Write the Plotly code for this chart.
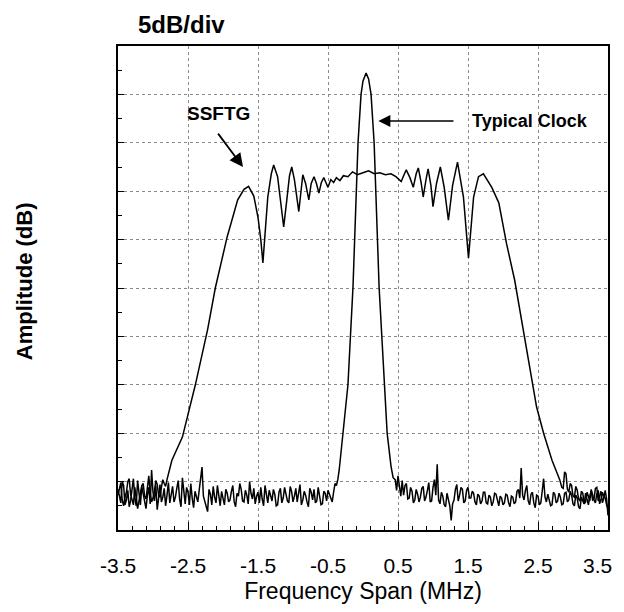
import numpy as np
import plotly.graph_objects as go

# ---------------- data ----------------
x_tick_vals = [-3.5, -2.5, -1.5, -0.5, 0.5, 1.5, 2.5]
x_tick_text = ["-3.5", "-2.5", "-1.5", "-0.5", "0.5", "1.5", "2.5"]
x_last_tick_text = "3.5"   # right-edge label, placed flush with the figure edge

# Typical clock: noise floor left of the peak (f = -3.50 ... -0.38 MHz, 0.02 MHz step)
clock_left_start, clock_left_stop = -3.50, -0.38
clock_left_db = [4.2, 3.5, 2.8, 5.0, 4.6, 2.6, 3.1, 4.1, 2.4, 3.0, 4.0, 5.3, 3.3, 2.5, 5.1, 3.9, 2.6, 4.5, 3.8, 2.9,
                 2.2, 3.6, 4.4, 2.7, 6.2, 3.9, 3.0, 4.6, 2.1, 3.3, 4.7, 2.9, 3.4, 4.3, 2.5, 3.6, 4.9, 2.8, 3.6, 4.5,
                 2.9, 3.4, 4.3, 5.1, 3.2, 2.4, 5.4, 3.6, 2.7, 4.4, 3.9, 2.6, 4.8, 3.3, 2.3, 4.0, 3.5, 2.9, 4.1, 5.2,
                 6.5, 3.5, 3.0, 2.3, 1.9, 4.2, 3.7, 2.6, 4.5, 3.4, 2.8, 4.6, 3.3, 2.5, 4.0, 3.1, 2.6, 4.2, 3.8, 2.9,
                 3.1, 4.0, 4.6, 2.9, 2.4, 3.8, 3.5, 4.8, 4.2, 3.0, 2.9, 4.1, 3.6, 2.7, 5.0, 3.8, 3.2, 4.3, 2.7, 3.5,
                 3.9, 2.8, 4.4, 3.2, 2.5, 4.6, 3.4, 2.8, 4.1, 3.5, 3.0, 4.2, 3.7, 2.5, 2.6, 3.9, 4.3, 2.8, 3.3, 4.4,
                 3.8, 3.0, 2.8, 4.5, 4.0, 2.9, 3.5, 4.3, 2.9, 3.8, 4.7, 2.6, 3.1, 4.0, 3.6, 2.9, 2.4, 4.3, 3.9, 3.1,
                 4.2, 2.8, 3.0, 4.4, 3.4, 2.6, 2.7, 4.0, 3.8, 3.0, 4.1, 3.7, 3.3, 2.9, 3.9, 4.8, 4.6]
# Typical clock: the peak itself
clock_peak_f = [-0.36, -0.34, -0.29, -0.215, -0.143, -0.071, -0.028, 0.0, 0.044, 0.08, 0.115, 0.159, 0.23, 0.302, 0.345, 0.40, 0.43]
clock_peak_db = [5.2, 6.2, 10.0, 15.0, 25.1, 40.0, 45.0, 46.4, 47.2, 46.6, 45.0, 40.0, 25.1, 15.0, 10.0, 6.6, 5.4]
# Typical clock: noise floor right of the peak (f = 0.46 ... 3.50 MHz, 0.02 MHz step)
clock_right_start, clock_right_stop = 0.46, 3.50
clock_right_db = [5.2, 4.1, 5.6, 4.4, 3.5, 5.1, 3.6, 4.6, 4.8, 3.2, 3.3, 4.4, 4.0, 2.8, 3.1, 4.2, 3.7, 2.9, 3.4, 4.3,
                  4.5, 3.0, 3.4, 4.1, 4.9, 2.9, 3.0, 4.4, 5.2, 3.6, 6.8, 3.1, 2.7, 3.9, 3.5, 2.6, 2.4, 3.8, 3.2, 2.5,
                  1.0, 2.7, 3.1, 4.2, 4.7, 3.0, 3.6, 4.4, 4.2, 2.8, 3.0, 4.1, 4.4, 3.3, 3.3, 4.0, 3.8, 2.9, 2.6, 3.7,
                  3.5, 2.7, 3.0, 3.9, 3.9, 2.8, 2.7, 3.6, 3.4, 2.5, 2.9, 3.8, 3.7, 2.9, 2.5, 3.5, 3.3, 2.6, 2.8, 3.7,
                  3.6, 2.8, 2.4, 3.5, 3.4, 2.7, 2.9, 4.0, 4.2, 3.3, 6.4, 3.6, 3.1, 4.1, 4.6, 3.0, 2.6, 3.7, 3.9, 2.8,
                  2.3, 3.6, 3.5, 2.6, 2.8, 4.0, 5.3, 3.4, 2.9, 3.7, 3.2, 2.5, 2.6, 3.9, 3.7, 2.8, 3.0, 3.8, 3.4, 2.6,
                  2.7, 3.8, 3.9, 2.9, 3.1, 4.0, 3.6, 2.7, 2.5, 3.6, 3.3, 2.4, 2.2, 3.4, 3.0, 2.7, 3.8, 3.1, 2.6, 3.5,
                  4.0, 3.1, 3.2, 4.3, 4.4, 3.0, 3.5, 4.0, 2.8, 3.3, 4.1, 3.2, 1.5]

# SSFTG: left noise tail (f = -3.50 ... -2.82 MHz, 0.02 MHz step)
ssftg_left_start, ssftg_left_stop = -3.50, -2.82
ssftg_left_db = [3.6, 4.4, 4.9, 3.1, 2.5, 3.4, 3.9, 5.0, 5.3, 3.7, 3.0, 2.6, 4.4, 3.3, 2.2, 3.0, 3.7, 4.6, 4.8, 3.5,
                 3.2, 4.2, 5.6, 3.8, 2.9, 3.3, 4.0, 5.1, 4.7, 3.6, 3.4, 4.4, 5.2, 4.8, 4.5]
# SSFTG: spread-spectrum body
ssftg_body_f = [-2.80, -2.73, -2.58, -2.395, -2.22, -2.11, -1.94, -1.79, -1.70, -1.635, -1.56, -1.50, -1.46, -1.43,
                -1.39, -1.36, -1.31, -1.276, -1.22, -1.17, -1.133, -1.09, -1.05, -1.018, -0.98, -0.917, -0.89,
                -0.86, -0.82, -0.774, -0.74, -0.70, -0.665, -0.63, -0.595, -0.56, -0.53, -0.50, -0.46, -0.42,
                -0.38, -0.33, -0.28, -0.215, -0.15, -0.08, 0.0, 0.08, 0.16, 0.24, 0.32, 0.40, 0.47, 0.52,
                0.546, 0.58, 0.618, 0.67, 0.718, 0.76, 0.79, 0.83, 0.86, 0.90, 0.93, 0.97, 1.0, 1.05, 1.105,
                1.16, 1.22, 1.28, 1.35, 1.435, 1.507, 1.58, 1.65, 1.72, 1.84, 1.94, 2.05, 2.167, 2.31, 2.48,
                2.58, 2.70, 2.81]
ssftg_body_db = [5.2, 7.2, 9.6, 15.0, 20.7, 25.0, 30.3, 34.1, 35.2, 35.5, 34.5, 32.3, 30.0, 27.6,
                 31.5, 34.4, 36.8, 37.7, 36.5, 33.5, 31.3, 34.0, 36.6, 37.5, 36.2, 32.9, 35.0,
                 36.7, 35.8, 34.1, 35.8, 36.5, 35.8, 34.8, 35.9, 36.4, 35.9, 35.4, 36.2, 35.9,
                 36.4, 36.1, 36.6, 36.5, 37.0, 36.7, 36.9, 37.1, 36.8, 36.9, 36.7, 36.8, 36.5, 36.2,
                 36.0, 36.6, 37.2, 36.4, 35.4, 36.8, 37.4, 35.9, 34.4, 36.2, 37.3, 35.6, 33.4, 35.8, 37.5,
                 35.4, 32.0, 35.6, 38.0, 34.4, 28.1, 34.4, 36.5, 36.8, 35.4, 33.8, 29.6, 25.8, 19.9, 12.7,
                 10.0, 7.2, 5.2]
# SSFTG: right noise tail (f = 2.82 ... 3.50 MHz, 0.02 MHz step)
ssftg_right_start, ssftg_right_stop = 2.82, 3.50
ssftg_right_db = [5.0, 4.4, 4.3, 6.0, 5.8, 4.2, 3.9, 4.8, 4.6, 3.5, 3.4, 4.5, 4.1, 3.2, 3.0, 4.0, 3.8, 2.7, 2.9, 3.9,
                  3.5, 3.0, 4.2, 3.6, 3.1, 2.8, 3.7, 4.1, 2.7, 3.2, 3.9, 3.5, 3.3, 2.6, 2.2]

# ---------------- assemble traces ----------------
clock_f = (list(np.linspace(clock_left_start, clock_left_stop, len(clock_left_db)))
           + clock_peak_f
           + list(np.linspace(clock_right_start, clock_right_stop, len(clock_right_db))))
clock_db = clock_left_db + clock_peak_db + clock_right_db

ssftg_f = (list(np.linspace(ssftg_left_start, ssftg_left_stop, len(ssftg_left_db)))
           + ssftg_body_f
           + list(np.linspace(ssftg_right_start, ssftg_right_stop, len(ssftg_right_db))))
ssftg_db = ssftg_left_db + ssftg_body_db + ssftg_right_db

FONT = "Liberation Sans, Arial, Helvetica, sans-serif"
TICKFONT = dict(size=21, color="black")
LABEL_STANDOFF = 16

fig = go.Figure()
fig.add_trace(go.Scatter(x=clock_f, y=clock_db, mode="lines", name="Typical Clock",
                         line=dict(color="black", width=1.5), showlegend=False))
fig.add_trace(go.Scatter(x=ssftg_f, y=ssftg_db, mode="lines", name="SSFTG",
                         line=dict(color="black", width=1.5), showlegend=False))

# the page body keeps its default 8 px margin, so the figure is sized to fit inside it
fig.update_layout(
    width=608, height=596,
    margin=dict(l=110, r=8, t=38, b=74),
    paper_bgcolor="white", plot_bgcolor="white",
    font=dict(family=FONT, color="black"),
    xaxis=dict(
        range=[-3.5, 3.5], tickmode="array", tickvals=x_tick_vals, ticktext=x_tick_text,
        tickfont=TICKFONT, ticks="inside", ticklen=8, tickcolor="black",
        showline=True, linecolor="black", linewidth=1.5, mirror=True,
        showgrid=True, gridcolor="#8a8a8a", griddash="dot", gridwidth=1,
        zeroline=False, ticklabelstandoff=LABEL_STANDOFF, automargin=False,
        minor=dict(dtick=0.2, tick0=-3.5, ticks="inside", ticklen=4, tickcolor="black", showgrid=False),
        title=dict(text="Frequency Span (MHz)", font=dict(size=23, color="black"), standoff=22),
    ),
    yaxis=dict(
        range=[0, 50], dtick=5, tick0=0, showticklabels=False, automargin=False,
        ticks="inside", ticklen=6, tickcolor="black",
        showline=True, linecolor="black", linewidth=1.5, mirror=True,
        showgrid=True, gridcolor="#8a8a8a", griddash="dot", gridwidth=1,
        zeroline=False,
        minor=dict(dtick=2.5, tick0=0, ticks="inside", ticklen=4, tickcolor="black", showgrid=False),
    ),
)

# last x label at the right edge of the frame, level with the other tick labels
fig.add_annotation(text=x_last_tick_text, xref="paper", yref="paper", x=1.0, y=0.0,
                   xanchor="right", yanchor="middle", xshift=6, yshift=-(LABEL_STANDOFF + 19.5),
                   showarrow=False, font=TICKFONT)
# y-axis title (rotated text, far left as in the original)
fig.add_annotation(text="<b>Amplitude (dB)</b>", xref="paper", yref="paper", x=-0.192, y=0.514,
                   xanchor="center", yanchor="middle", textangle=-90, showarrow=False,
                   font=dict(size=22, color="black"))
fig.add_annotation(text="<b>5dB/div</b>", xref="paper", yref="paper", x=0.1286, y=1.0,
                   xanchor="center", yanchor="middle", yshift=22, showarrow=False,
                   font=dict(size=24, color="black"))
fig.add_annotation(text="<b>SSFTG</b>", x=-2.07, y=43.0, xref="x", yref="y",
                   showarrow=False, font=dict(size=19, color="black"))
fig.add_annotation(x=-1.714, y=37.5, xref="x", yref="y", ax=-2.086, ay=41.1, axref="x", ayref="y",
                   text="", showarrow=True, arrowhead=2, arrowsize=1.5, arrowwidth=1.8, arrowcolor="black")
fig.add_annotation(text="<b>Typical Clock</b>", x=2.386, y=42.25, xref="x", yref="y",
                   showarrow=False, font=dict(size=18, color="black"))
fig.add_annotation(x=0.22, y=42.25, xref="x", yref="y", ax=1.314, ay=42.25, axref="x", ayref="y",
                   text="", showarrow=True, arrowhead=2, arrowsize=1.5, arrowwidth=1.6, arrowcolor="black")

fig.write_html("out.html", config={"displayModeBar": False})
